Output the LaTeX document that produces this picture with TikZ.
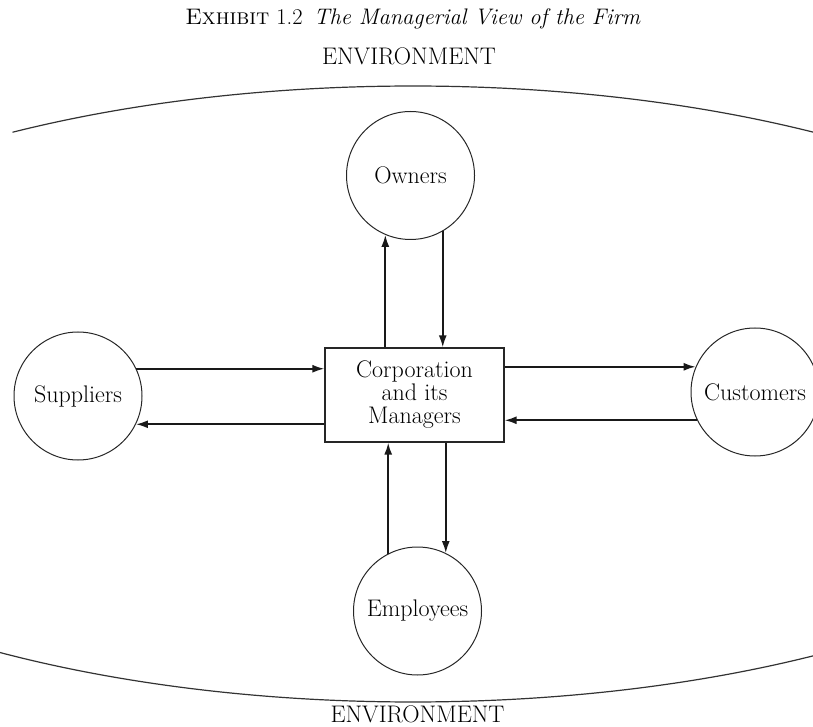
\documentclass[tikz,border=0pt]{standalone}
\usetikzlibrary{arrows.meta}
\begin{document}
\begin{tikzpicture}[x=1pt,y=1pt,
  ink/.style={draw=black!85},
  party/.style={ink, circle, line width=1pt, minimum size=128pt, inner sep=0pt,
    font=\fontsize{24}{23}\selectfont},
  corp/.style={ink, rectangle, line width=1.3pt, minimum width=179pt, minimum height=94pt,
    inner sep=0pt, align=center, font=\fontsize{24}{23}\selectfont},
  arr/.style={draw=black!90, line width=1.8pt, -{Latex[length=12pt,width=8pt]}},
  envlabel/.style={font=\fontsize{24}{26}\selectfont, anchor=base},
  envline/.style={draw=black!80, line width=1.2pt}]
\useasboundingbox (0,0) rectangle (813,726);
% title
\node[anchor=base, font=\fontsize{22.5}{24}\selectfont] (title) at (413,701)
  {\textsc{Exhibit} 1.2\enspace\textit{The Managerial View of the Firm}};
% environment
\node[envlabel] (envtop) at (409,661) {ENVIRONMENT};
\node[envlabel] (envbot) at (417.5,4) {ENVIRONMENT};
\draw[envline] (413,332) ++(121.8:760 and 308)
  arc[start angle=121.8, end angle=56, x radius=760, y radius=308];
\draw[envline] (413,332) ++(211.4:760 and 308)
  arc[start angle=211.4, end angle=304, x radius=760, y radius=308];
% nodes
\node[corp] (box) at (414.5,331) {Corporation\\and its\\Managers};
\node[party] (own) at (410.5,550.5) {Owners};
\node[party] (sup) at (78,330) {Suppliers};
\node[party] (cus) at (755,334) {Customers};
\node[party] (emp) at (417.5,115) {Employees};
% owners
\draw[arr] (own.247.5 |- box.north) -- (own.247.5);
\draw[arr] (own.300.5) -- (own.300.5 |- box.north);
% employees
\draw[arr] (emp.117.4) -- (emp.117.4 |- box.south);
\draw[arr] (emp.64.5 |- box.south) -- (emp.64.5);
% suppliers
\draw[arr] (sup.25) -- (sup.25 -| box.west);
\draw[arr] (sup.-26 -| box.west) -- (sup.-26);
% customers
\draw[arr] (cus.157 -| box.east) -- (cus.157);
\draw[arr] (cus.206) -- (cus.206 -| box.east);
\end{tikzpicture}
\end{document}
